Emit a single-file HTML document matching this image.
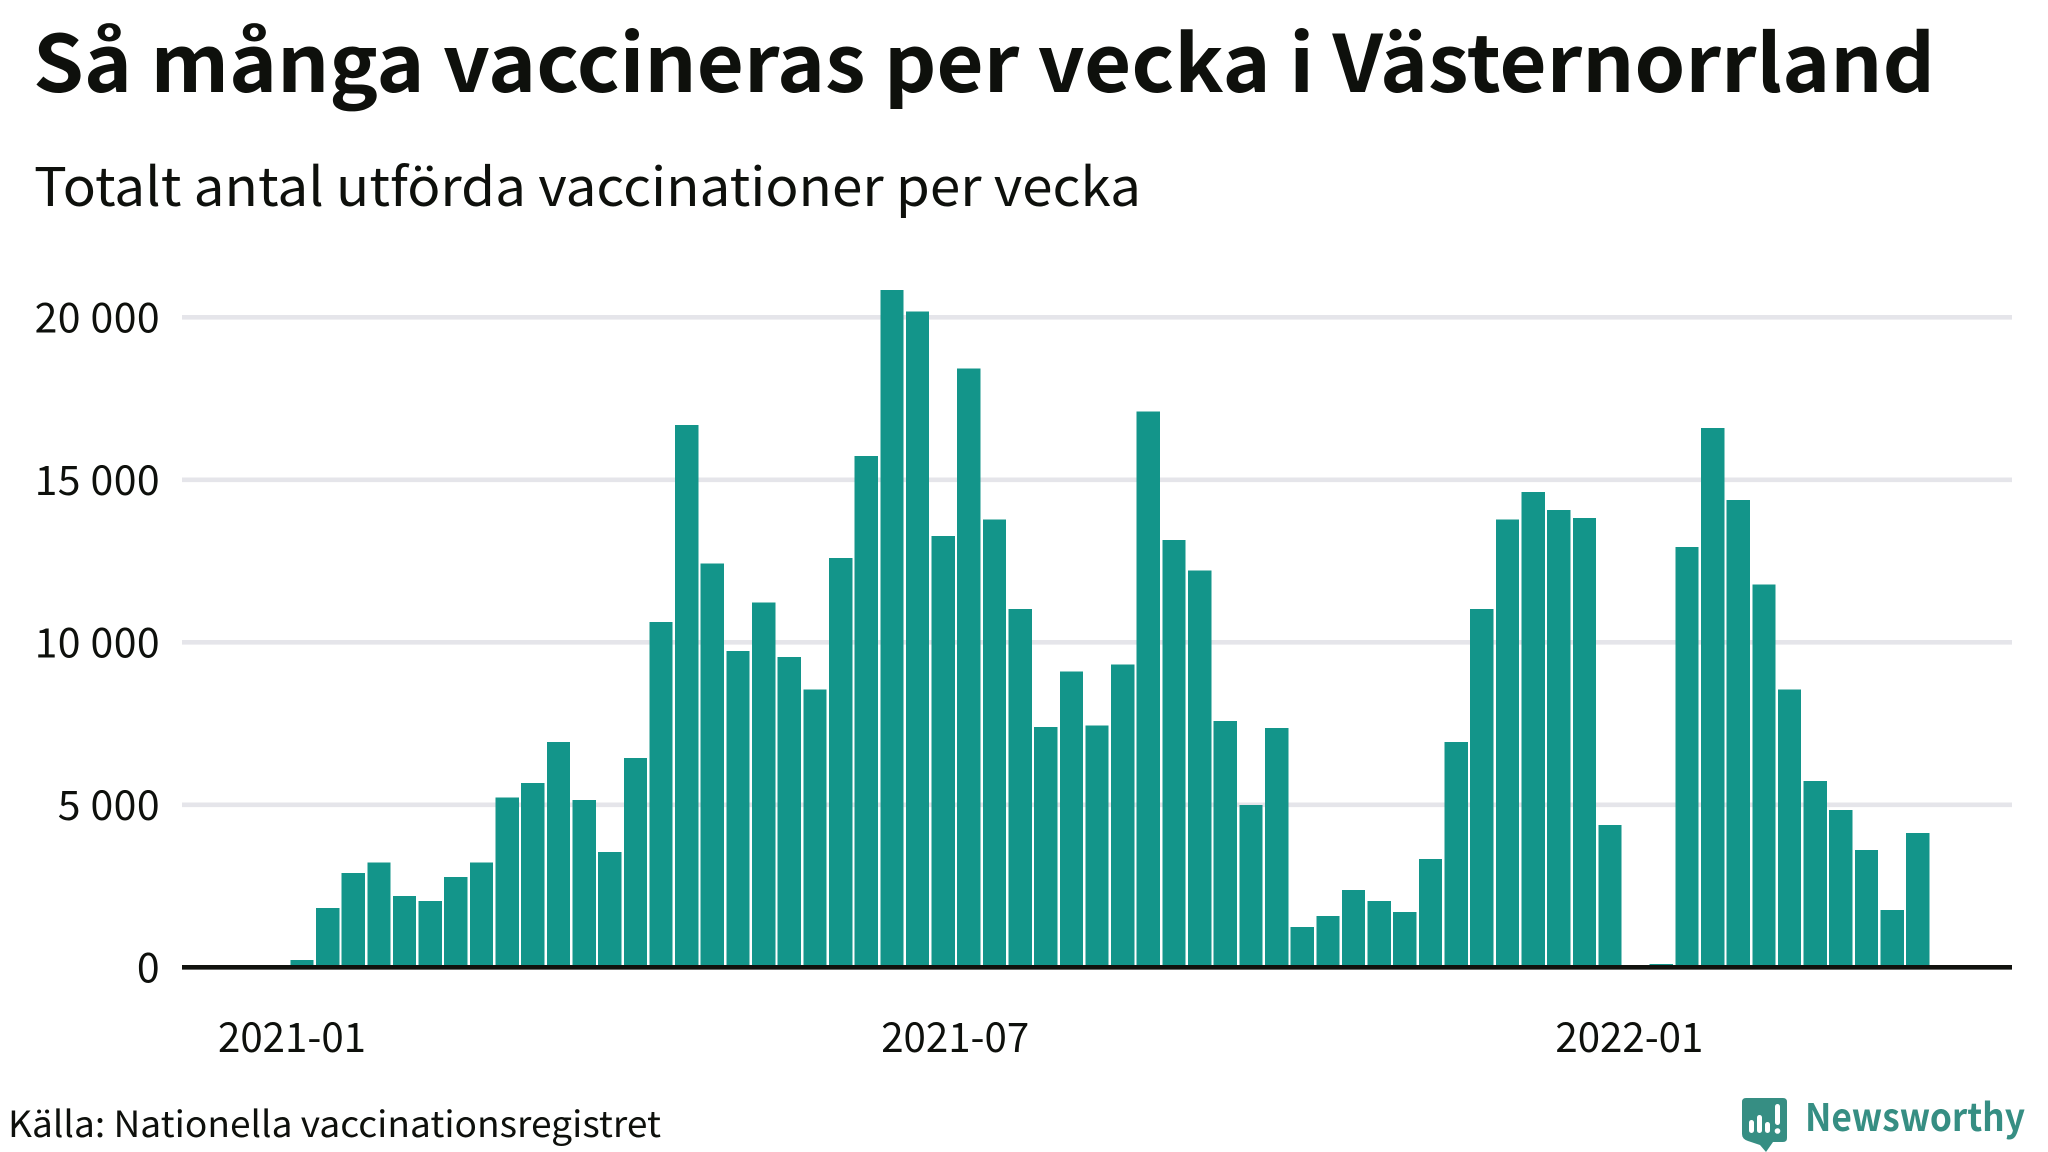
<!DOCTYPE html>
<html lang="sv">
<head>
<meta charset="utf-8">
<title>Så många vaccineras per vecka i Västernorrland</title>
<style>
html,body{margin:0;padding:0;background:#fff;width:2048px;height:1152px;overflow:hidden}
svg{display:block}
text{font-family:"Noto Sans CJK JP","Liberation Sans",sans-serif;fill:#0e100c}
</style>
</head>
<body>
<svg id="chart" xmlns="http://www.w3.org/2000/svg" width="2048" height="1152" viewBox="0 0 2048 1152">
  <rect x="0" y="0" width="2048" height="1152" fill="#ffffff"/>
  <text x="33" y="92" font-size="79" font-weight="700" textLength="1902" lengthAdjust="spacingAndGlyphs">Så många vaccineras per vecka i Västernorrland</text>
  <text x="34" y="206" font-size="53" textLength="1107" lengthAdjust="spacingAndGlyphs">Totalt antal utförda vaccinationer per vecka</text>
  <g id="grid"></g>
  <g id="bars"></g>
  <g id="axis"></g>
  <g id="yticks"></g>
  <g id="xticks"></g>
  <text x="8" y="1137" font-size="36" textLength="653" lengthAdjust="spacingAndGlyphs">Källa: Nationella vaccinationsregistret</text>
  <g>
    <path d="M1746 1098H1783Q1787 1098 1787 1102V1138Q1787 1142 1783 1142H1773L1766 1152L1760 1145L1748 1141Q1742 1139 1742 1134V1102Q1742 1098 1746 1098Z" fill="#368e83"/>
    <rect x="1749" y="1120" width="5" height="13" rx="2.5" fill="#fff"/>
    <rect x="1757" y="1115" width="5" height="18" rx="2.5" fill="#fff"/>
    <rect x="1765" y="1122" width="5" height="11" rx="2.5" fill="#fff"/>
    <rect x="1775" y="1104" width="5" height="21" rx="2.5" fill="#fff"/>
    <circle cx="1777.5" cy="1131" r="2.8" fill="#fff"/>
    <text x="1805" y="1131" font-size="38" font-weight="700" style="fill:#368e83" textLength="220" lengthAdjust="spacingAndGlyphs">Newsworthy</text>
  </g>
</svg>
<script>
const weeks = ["2021-01-04","2021-01-11","2021-01-18","2021-01-25","2021-02-01","2021-02-08","2021-02-15","2021-02-22","2021-03-01","2021-03-08","2021-03-15","2021-03-22","2021-03-29","2021-04-05","2021-04-12","2021-04-19","2021-04-26","2021-05-03","2021-05-10","2021-05-17","2021-05-24","2021-05-31","2021-06-07","2021-06-14","2021-06-21","2021-06-28","2021-07-05","2021-07-12","2021-07-19","2021-07-26","2021-08-02","2021-08-09","2021-08-16","2021-08-23","2021-08-30","2021-09-06","2021-09-13","2021-09-20","2021-09-27","2021-10-04","2021-10-11","2021-10-18","2021-10-25","2021-11-01","2021-11-08","2021-11-15","2021-11-22","2021-11-29","2021-12-06","2021-12-13","2021-12-20","2021-12-27","2022-01-03","2022-01-10","2022-01-17","2022-01-24","2022-01-31","2022-02-07","2022-02-14","2022-02-21","2022-02-28","2022-03-07","2022-03-14","2022-03-21"];
const vaccinations = [226,1819,2904,3232,2192,2034,2780,3232,5232,5673,6927,5142,3548,6441,10622,16679,12430,9729,11232,9549,8554,12588,15730,20837,20182,13266,18430,13786,11018,7390,9108,7447,9322,17108,13142,12215,7571,4995,7356,1243,1571,2373,2034,1695,3334,6927,11018,13786,14622,14068,13820,4373,0,100,12927,16588,14374,11786,8554,5729,4836,3605,1763,4125];
const yTickValues = [0,5000,10000,15000,20000];
const yTickLabels = ["0","5 000","10 000","15 000","20 000"];
const xTickDates = ["2021-01-01","2021-07-01","2022-01-01"];
const xTickLabels = ["2021-01","2021-07","2022-01"];

const NS = "http://www.w3.org/2000/svg";
const dayMs = 86400000;
const x0Date = Date.parse("2021-01-04");
function xScale(d){ return 302 + (Date.parse(d) - x0Date) / dayMs * 3.664; }
function yScale(v){ return 967.3 - v * 0.0325; }
function mk(tag, attrs){
  const el = document.createElementNS(NS, tag);
  for (const k in attrs) el.setAttribute(k, attrs[k]);
  return el;
}

const gridG = document.getElementById("grid");
const yG = document.getElementById("yticks");
yTickValues.forEach(function(v, i){
  if (v !== 0) {
    const line = mk("line", {x1:182, x2:2012, y1:yScale(v), y2:yScale(v), stroke:"#e5e5ea", "stroke-width":4.6});
    
    
    gridG.appendChild(line);
  }
  const t = mk("text", {x:160, y:yScale(v) + 15, "text-anchor":"end", "font-size":41, "letter-spacing":0.4});
  
  
  t.textContent = yTickLabels[i];
  yG.appendChild(t);
});

const barsG = document.getElementById("bars");
const barWidth = 23.3;
weeks.forEach(function(w, i){
  const cx = xScale(w);
  const top = yScale(vaccinations[i]);
  const r = mk("rect", {x:cx - barWidth / 2, y:top, width:barWidth, height:yScale(0) - top, fill:"#13958a", "shape-rendering":"crispEdges"});
  
  
  barsG.appendChild(r);
});

const axisG = document.getElementById("axis");
const axisLine = mk("line", {x1:182, x2:2012, y1:yScale(0), y2:yScale(0), stroke:"#11120e", "stroke-width":4.6});


axisG.appendChild(axisLine);

const xG = document.getElementById("xticks");
xTickDates.forEach(function(d, i){
  const t = mk("text", {x:xScale(d) + 1, y:1052, "text-anchor":"middle", "font-size":41, textLength:148, lengthAdjust:"spacingAndGlyphs"});
  
  
  t.textContent = xTickLabels[i];
  xG.appendChild(t);
});
</script>
</body>
</html>
